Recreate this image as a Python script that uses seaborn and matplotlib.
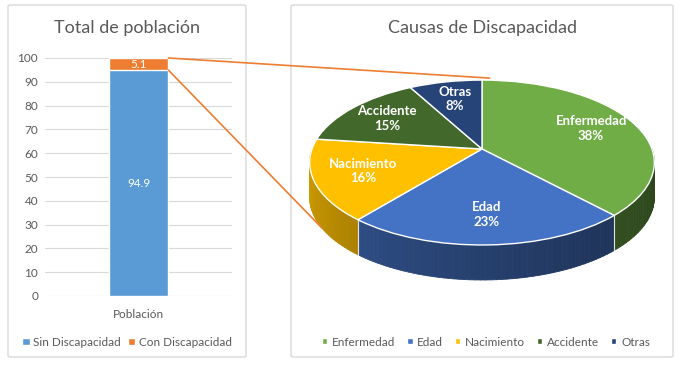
import numpy as np
import pandas as pd
import matplotlib
matplotlib.use('Agg')
import matplotlib.pyplot as plt
import seaborn as sns
from matplotlib.transforms import Transform
from matplotlib.patches import FancyBboxPatch, Patch, ConnectionPatch
from matplotlib.collections import PolyCollection

# datos
categoria = ['Población']
sin_discapacidad = [94.9]
con_discapacidad = [5.1]
causas = ['Enfermedad', 'Edad', 'Nacimiento', 'Accidente', 'Otras']
porcentajes = [38, 23, 16, 15, 8]
colores_causas = ['#70AD47', '#4472C4', '#FFC000', '#43682B', '#264478']

sns.set_theme(style='white')
plt.rcParams['font.family'] = ['Lato', 'DejaVu Sans']
gris = '#595959'
W, H = 683, 372


# perspectiva del pastel (disco inclinado)
class Inclinacion(Transform):
    input_dims = output_dims = 2

    def __init__(self, c, b):
        super().__init__()
        self.c = c
        self.b = b

    def transform_non_affine(self, v):
        v = np.asarray(v, dtype=float)
        w = 1 + self.c * v[:, 1]
        return np.column_stack([v[:, 0] / w, self.b * v[:, 1] / w])


fig = plt.figure(figsize=(W / 100, H / 100), dpi=100)

# marcos de los dos paneles
for x0, x1 in [(8, 246), (291, 673)]:
    fig.patches.append(FancyBboxPatch((x0 / W, 1 - 357 / H), (x1 - x0) / W, 352 / H,
                                      boxstyle='round,pad=0,rounding_size=0.004',
                                      transform=fig.transFigure, fill=False,
                                      edgecolor='#D9D9D9', linewidth=1))

# --- barra apilada ---
ax1 = fig.add_axes([45 / W, 76 / H, 187 / W, 238 / H])
df = pd.DataFrame({'grupo': categoria, 'sin': sin_discapacidad, 'con': con_discapacidad})
df['total'] = df['sin'] + df['con']
sns.barplot(data=df, x='grupo', y='total', color='#ED7D31', width=0.32, saturation=1,
            label='Con Discapacidad', ax=ax1)
sns.barplot(data=df, x='grupo', y='sin', color='#5B9BD5', width=0.32, saturation=1,
            label='Sin Discapacidad', ax=ax1)
ax1.set_xlim(-0.5, 0.5)
ax1.set_ylim(0, 100)
ax1.set_yticks(range(0, 101, 10))
ax1.set_xlabel('')
ax1.set_ylabel('')
ax1.grid(axis='y', color='#D9D9D9', linewidth=0.8)
ax1.set_axisbelow(True)
sns.despine(ax=ax1, left=True, bottom=True)
ax1.tick_params(axis='y', length=0, pad=5, labelsize=8.5, labelcolor=gris)
ax1.tick_params(axis='x', length=0, pad=9, labelsize=8.5, labelcolor=gris)

for i, row in df.iterrows():
    ax1.text(i, row['sin'] / 2, f"{row['sin']}", ha='center', va='center',
             color='white', fontsize=8.5)
    ax1.text(i, row['sin'] + row['con'] / 2, f"{row['con']}", ha='center', va='center',
             color='white', fontsize=8.5)

h, l = ax1.get_legend_handles_labels()
ax1.legend(h[::-1], l[::-1], loc='center', bbox_to_anchor=(127 / W, 1 - 342 / H),
           bbox_transform=fig.transFigure, ncol=2, frameon=False, fontsize=8.5,
           labelcolor=gris, handlelength=0.6, handleheight=0.6, handletextpad=0.3,
           columnspacing=0.6)

fig.text(127 / W, 1 - 28 / H, 'Total de población', ha='center', va='center',
         fontsize=13, color=gris)

# --- pastel 3D ---
ax2 = fig.add_axes([295 / W, 52 / H, 375 / W, 275 / H])
incl = Inclinacion(0.164, 0.472)
profundidad = 35 / 170

wedges, textos, autotextos = ax2.pie(
    porcentajes, colors=colores_causas, startangle=90, counterclock=False,
    autopct='%1.0f%%', pctdistance=0.72,
    wedgeprops=dict(edgecolor='white', linewidth=1),
    textprops=dict(color='white', fontsize=9.5, fontweight='bold'))
ax2.set_aspect('auto')
ax2.set_xlim((295 - 482) / 170, (670 - 482) / 170)
ax2.set_ylim(-(320 - 149) / 170, (149 - 45) / 170)
ax2.axis('off')

for w in wedges:
    w.set_transform(incl + ax2.transData)
    w.set_zorder(3)
for t, nombre in zip(autotextos, causas):
    t.set_text(f'{nombre}\n{t.get_text()}')
    t.set_transform(incl + ax2.transData)
    t.set_zorder(4)
    t.set_linespacing(1.25)

# paredes laterales con sombreado
polys, cols = [], []
for w, col in zip(wedges, colores_causas):
    rgb = np.array(matplotlib.colors.to_rgb(col))
    for k in (-360, 0, 360):
        lo = max(w.theta1 + k, -180)
        hi = min(w.theta2 + k, 0)
        if hi <= lo:
            continue
        ang = np.linspace(lo, hi, max(2, int((hi - lo) / 1.5) + 1))
        top = incl.transform(np.column_stack([np.cos(np.radians(ang)), np.sin(np.radians(ang))]))
        bot = top - [0, profundidad]
        for i in range(len(ang) - 1):
            polys.append([top[i], top[i + 1], bot[i + 1], bot[i]])
            f = 0.4 + 0.45 * (-(ang[i] + ang[i + 1]) / 2 / 180) ** 1.5
            cols.append(np.clip(rgb * f, 0, 1))
ax2.add_collection(PolyCollection(polys, facecolors=cols, edgecolors=cols,
                                  linewidths=0.6, zorder=1))

for w in wedges:
    for t in (w.theta1, w.theta2):
        t = (t + 180) % 360 - 180
        if -180 < t < 0:
            p = incl.transform(np.array([[np.cos(np.radians(t)), np.sin(np.radians(t))]]))[0]
            ax2.plot([p[0], p[0]], [p[1], p[1] - profundidad], color='white',
                     alpha=0.6, linewidth=0.8, zorder=2)

fig.text(483 / W, 1 - 28 / H, 'Causas de Discapacidad', ha='center', va='center',
         fontsize=13, color=gris)
fig.legend([Patch(facecolor=c) for c in colores_causas], causas, loc='center',
           bbox_to_anchor=(486 / W, 1 - 342 / H), ncol=5, frameon=False, fontsize=8.5,
           labelcolor=gris, handlelength=0.45, handleheight=0.45, handletextpad=0.4,
           columnspacing=1.0)

# lineas de conexion
arriba = incl.transform(np.array([[np.cos(np.radians(87)), np.sin(np.radians(87))]]))[0]
abajo = incl.transform(np.array([[np.cos(np.radians(-150)), np.sin(np.radians(-150))]]))[0]
abajo = abajo - [0, profundidad]
x_borde = 0.16
tope = df['total'].iloc[0]
for ya, pb in [(tope, arriba + [0, 0.012]), (df['sin'].iloc[0], abajo)]:
    fig.add_artist(ConnectionPatch(xyA=(x_borde, ya), coordsA=ax1.transData,
                                   xyB=tuple(pb), coordsB=ax2.transData,
                                   color='#ED7D31', linewidth=1.2, zorder=5))

fig.savefig('out.png', dpi=100, facecolor='white')
